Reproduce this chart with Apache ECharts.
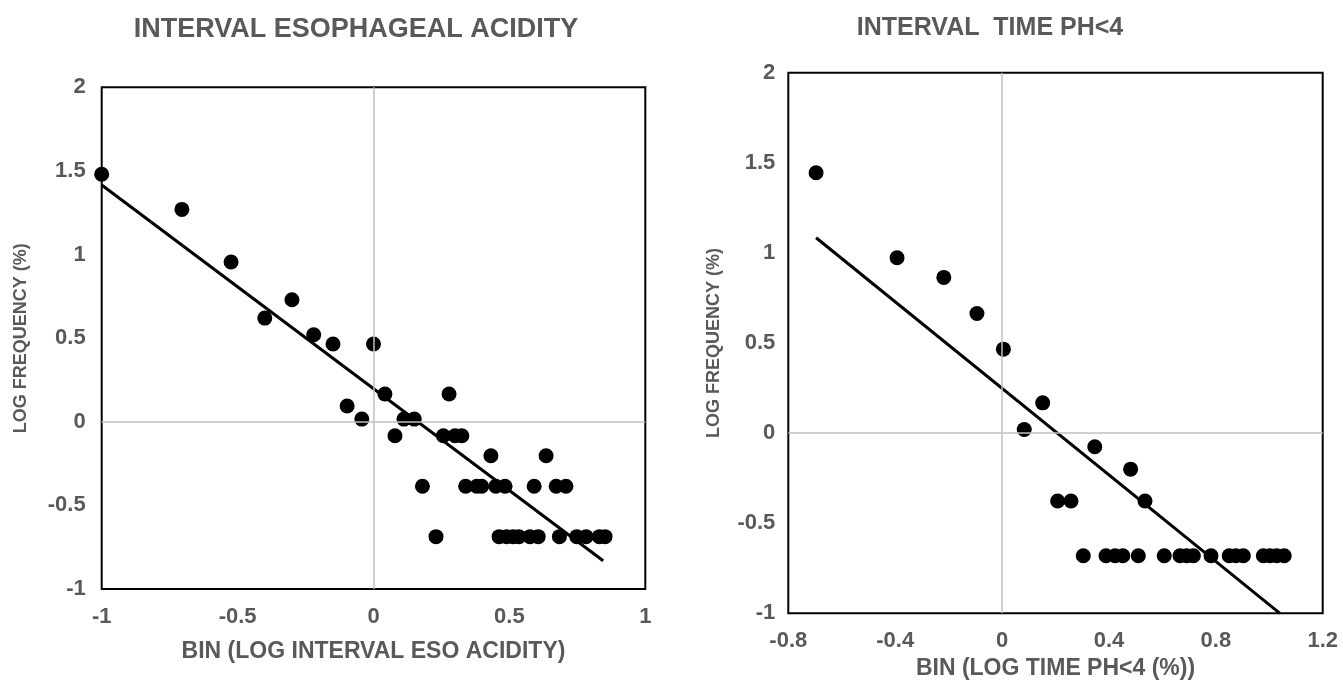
<!DOCTYPE html>
<html>
<head>
<meta charset="utf-8">
<script src="https://cdn.jsdelivr.net/npm/echarts@6/dist/echarts.min.js"></script>
<style>
  html, body { margin: 0; padding: 0; background: #fff; }
  #main { width: 1343px; height: 686px; }
</style>
</head>
<body>
<div id="main"></div>
<script>
// left panel: interval esophageal acidity
let leftX = [-1.0, -0.705, -0.524, -0.40, -0.30, -0.22, -0.149, 0.0,
  -0.097, -0.043, 0.042, 0.112, 0.150, 0.079, 0.278, 0.257, 0.300, 0.325,
  0.432, 0.635,
  0.180, 0.339, 0.380, 0.398, 0.450, 0.484, 0.591, 0.672, 0.708,
  0.230, 0.462, 0.490, 0.514, 0.535, 0.576, 0.606, 0.684, 0.748, 0.782, 0.831, 0.852];
let leftY = [1.48, 1.27, 0.955, 0.62, 0.73, 0.52, 0.465, 0.465,
  0.094, 0.016, 0.166, 0.016, 0.016, -0.084, 0.166, -0.084, -0.084, -0.084,
  -0.203, -0.203,
  -0.386, -0.386, -0.386, -0.386, -0.386, -0.386, -0.386, -0.386, -0.386,
  -0.687, -0.687, -0.687, -0.687, -0.687, -0.687, -0.687, -0.687, -0.687, -0.687, -0.687, -0.687];
let leftTrendX = [-1.0, 0.845];
let leftTrendY = [1.416, -0.831];

// right panel: interval time pH<4
let rightX = [-0.696, -0.393, -0.218, -0.094, 0.005, 0.152, 0.083, 0.347, 0.481, 0.535,
  0.208, 0.258,
  0.304, 0.389, 0.423, 0.452, 0.510, 0.607, 0.666, 0.691, 0.716, 0.782, 0.850,
  0.875, 0.903, 0.978, 1.003, 1.028, 1.056];
let rightY = [1.445, 0.973, 0.864, 0.664, 0.466, 0.168, 0.020, -0.076, -0.2, -0.377,
  -0.377, -0.377,
  -0.681, -0.681, -0.681, -0.681, -0.681, -0.681, -0.681, -0.681, -0.681, -0.681, -0.681,
  -0.681, -0.681, -0.681, -0.681, -0.681, -0.681];
let rightTrendX = [-0.696, 1.040];
let rightTrendY = [1.084, -1.0];

let titles = ['INTERVAL ESOPHAGEAL ACIDITY', 'INTERVAL  TIME PH<4'];
let xNames = ['BIN (LOG INTERVAL ESO ACIDITY)', 'BIN (LOG TIME PH<4 (%))'];
let yName = 'LOG FREQUENCY (%)';

const GRAY = '#595959';
const FONT = '"Liberation Sans", Arial, sans-serif';

function pairs(xs, ys){
  return xs.map((x, i) => [x, ys[i]]);
}

function xAxisOpt(idx, min, max, interval, gap){
  return {
    gridIndex: idx, type: 'value', min: min, max: max, interval: interval,
    name: xNames[idx], nameLocation: 'middle', nameGap: gap,
    nameTextStyle: { color: GRAY, fontSize: 23, fontWeight: 'bold', fontFamily: FONT },
    axisLine: { show: false }, axisTick: { show: false }, splitLine: { show: false },
    axisLabel: { color: GRAY, fontSize: 22, fontWeight: 'bold', fontFamily: FONT, margin: 17 }
  };
}

function yAxisOpt(idx, gap, margin){
  return {
    gridIndex: idx, type: 'value', min: -1, max: 2, interval: 0.5,
    name: yName, nameLocation: 'middle', nameGap: gap, nameRotate: 90,
    nameTextStyle: { color: GRAY, fontSize: 18, fontWeight: 'bold', fontFamily: FONT },
    axisLine: { show: false }, axisTick: { show: false }, splitLine: { show: false },
    axisLabel: { color: GRAY, fontSize: 22, fontWeight: 'bold', fontFamily: FONT, margin: margin }
  };
}

function scatterSeries(idx, xs, ys){
  return {
    type: 'scatter', xAxisIndex: idx, yAxisIndex: idx,
    data: pairs(xs, ys), symbolSize: 15,
    itemStyle: { color: '#000', opacity: 1 },
    markLine: {
      silent: true, symbol: 'none', label: { show: false },
      lineStyle: { color: '#bfbfbf', width: 1.5, type: 'solid' },
      data: [{ xAxis: 0 }, { yAxis: 0 }]
    }
  };
}

function trendSeries(idx, xs, ys){
  return {
    type: 'line', xAxisIndex: idx, yAxisIndex: idx,
    data: pairs(xs, ys), symbol: 'none', z: 3,
    lineStyle: { color: '#000', width: 3 }
  };
}

let chart = echarts.init(document.getElementById('main'));
chart.setOption({
  backgroundColor: '#fff',
  animation: false,
  title: [
    { text: titles[0], left: 351, top: 11, textAlign: 'center',
      textStyle: { color: GRAY, fontSize: 27, fontWeight: 'bold', fontFamily: FONT } },
    { text: titles[1], left: 985, top: 11, textAlign: 'center',
      textStyle: { color: GRAY, fontSize: 25, fontWeight: 'bold', fontFamily: FONT } }
  ],
  grid: [
    { left: 101.7, top: 87.3, width: 543.6, height: 501.7, show: true,
      borderColor: '#000', borderWidth: 2, backgroundColor: '#fff' },
    { left: 788.3, top: 72.7, width: 534.4, height: 540.6, show: true,
      borderColor: '#000', borderWidth: 2, backgroundColor: '#fff' }
  ],
  xAxis: [
    xAxisOpt(0, -1, 1, 0.5, 51),
    xAxisOpt(1, -0.8, 1.2, 0.4, 40)
  ],
  yAxis: [
    yAxisOpt(0, 72, 16),
    yAxisOpt(1, 65, 13)
  ],
  series: [
    scatterSeries(0, leftX, leftY),
    trendSeries(0, leftTrendX, leftTrendY),
    scatterSeries(1, rightX, rightY),
    trendSeries(1, rightTrendX, rightTrendY)
  ]
});
</script>
</body>
</html>
